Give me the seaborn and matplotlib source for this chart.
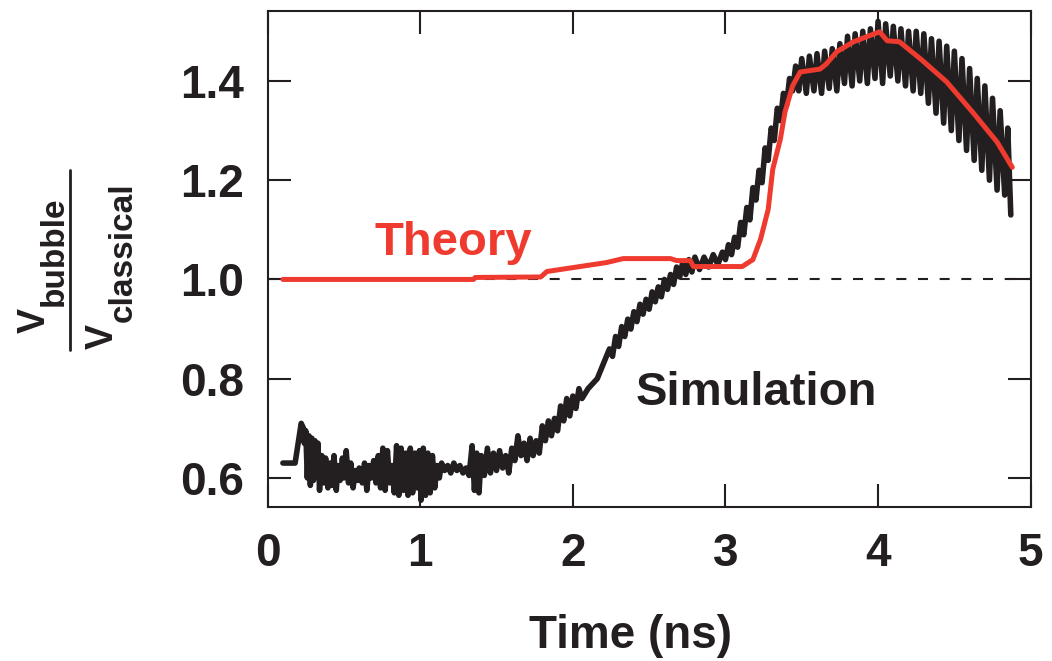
import matplotlib
matplotlib.use("Agg")
import matplotlib.pyplot as plt
import pandas as pd
import seaborn as sns

# simulation curve (time in ns, V_bubble / V_classical)
sim_t = [
    0.10, 0.18, 0.22, 0.235, 0.24, 0.25, 0.26, 0.27, 0.28, 0.29,
    0.30, 0.31, 0.32, 0.33, 0.34, 0.355, 0.37, 0.38, 0.395, 0.41,
    0.42, 0.435, 0.45, 0.46, 0.475, 0.49, 0.50, 0.515, 0.53, 0.545,
    0.56, 0.575, 0.59, 0.60, 0.62, 0.635, 0.65, 0.665, 0.68, 0.695,
    0.71, 0.725, 0.74, 0.755, 0.77, 0.785, 0.80, 0.815, 0.83, 0.845,
    0.86, 0.875, 0.89, 0.905, 0.92, 0.935, 0.95, 0.965, 0.98, 0.995,
    1.005, 1.02, 1.035, 1.05, 1.065, 1.08, 1.095, 1.11, 1.125, 1.14,
    1.16, 1.18, 1.20, 1.22, 1.24, 1.26, 1.28, 1.30, 1.32, 1.34,
    1.355, 1.37, 1.385, 1.40, 1.42, 1.44, 1.46, 1.48, 1.50, 1.52,
    1.54, 1.56, 1.58, 1.60, 1.62, 1.64, 1.66, 1.68, 1.70, 1.72,
    1.74, 1.76, 1.78, 1.80, 1.82, 1.84, 1.86, 1.88, 1.90, 1.92,
    1.94, 1.96, 1.98, 2.00, 2.02, 2.04, 2.06, 2.10, 2.16, 2.20,
    2.24, 2.26, 2.28, 2.30, 2.32, 2.34, 2.36, 2.38, 2.40, 2.42,
    2.44, 2.46, 2.48, 2.50, 2.52, 2.54, 2.56, 2.58, 2.60, 2.62,
    2.64, 2.66, 2.68, 2.70, 2.72, 2.74, 2.76, 2.78, 2.80, 2.83,
    2.86, 2.89, 2.92, 2.95, 2.98, 3.00, 3.02, 3.04, 3.06, 3.08,
    3.10, 3.12, 3.14, 3.16, 3.18, 3.20, 3.22, 3.24, 3.26, 3.28,
    3.30, 3.32, 3.34, 3.36, 3.38, 3.40, 3.42, 3.44, 3.46, 3.48,
    3.50, 3.53, 3.55, 3.58, 3.60, 3.63, 3.65, 3.68, 3.70, 3.73,
    3.75, 3.78, 3.80, 3.83, 3.85, 3.88, 3.90, 3.93, 3.95, 3.98,
    4.00, 4.03, 4.05, 4.08, 4.10, 4.13, 4.15, 4.18, 4.20, 4.23,
    4.25, 4.28, 4.30, 4.33, 4.35, 4.38, 4.40, 4.43, 4.45, 4.48,
    4.50, 4.53, 4.55, 4.58, 4.60, 4.63, 4.65, 4.68, 4.70, 4.73,
    4.75, 4.78, 4.80, 4.83, 4.85, 4.87,
]
sim_v = [
    0.630, 0.630, 0.710, 0.700, 0.670, 0.695, 0.600, 0.685, 0.585, 0.680,
    0.595, 0.675, 0.605, 0.670, 0.575, 0.645, 0.590, 0.640, 0.580, 0.630,
    0.585, 0.645, 0.575, 0.625, 0.595, 0.640, 0.600, 0.655, 0.590, 0.630,
    0.580, 0.615, 0.595, 0.620, 0.590, 0.630, 0.575, 0.625, 0.600, 0.635,
    0.590, 0.645, 0.580, 0.660, 0.575, 0.655, 0.590, 0.625, 0.570, 0.665,
    0.565, 0.660, 0.575, 0.650, 0.565, 0.660, 0.570, 0.650, 0.580, 0.655,
    0.555, 0.660, 0.565, 0.650, 0.570, 0.645, 0.580, 0.625, 0.600, 0.630,
    0.615, 0.625, 0.610, 0.630, 0.615, 0.625, 0.610, 0.620, 0.605, 0.665,
    0.575, 0.650, 0.570, 0.645, 0.605, 0.660, 0.610, 0.650, 0.615, 0.655,
    0.620, 0.645, 0.610, 0.660, 0.635, 0.685, 0.645, 0.670, 0.635, 0.680,
    0.645, 0.675, 0.650, 0.705, 0.675, 0.715, 0.685, 0.720, 0.695, 0.745,
    0.715, 0.760, 0.725, 0.765, 0.740, 0.780, 0.760, 0.780, 0.800, 0.830,
    0.860, 0.845, 0.885, 0.865, 0.905, 0.885, 0.920, 0.900, 0.935, 0.915,
    0.950, 0.930, 0.960, 0.940, 0.975, 0.955, 0.985, 0.965, 1.000, 0.980,
    1.010, 0.990, 1.025, 1.005, 1.035, 1.010, 1.040, 1.015, 1.045, 1.020,
    1.045, 1.025, 1.050, 1.030, 1.055, 1.040, 1.070, 1.050, 1.085, 1.065,
    1.115, 1.090, 1.145, 1.120, 1.185, 1.160, 1.220, 1.195, 1.265, 1.240,
    1.305, 1.280, 1.345, 1.320, 1.375, 1.350, 1.405, 1.380, 1.430, 1.380,
    1.445, 1.375, 1.450, 1.380, 1.455, 1.375, 1.460, 1.385, 1.465, 1.380,
    1.475, 1.395, 1.490, 1.390, 1.495, 1.400, 1.500, 1.395, 1.505, 1.405,
    1.520, 1.395, 1.515, 1.410, 1.510, 1.400, 1.505, 1.390, 1.500, 1.380,
    1.500, 1.375, 1.495, 1.355, 1.485, 1.335, 1.480, 1.315, 1.470, 1.300,
    1.460, 1.280, 1.445, 1.260, 1.425, 1.240, 1.405, 1.220, 1.390, 1.200,
    1.365, 1.180, 1.340, 1.170, 1.305, 1.130,
]

# theory curve
theory_t = [
    0.10, 1.35, 1.36, 1.79, 1.83, 2.22, 2.33, 2.64, 2.68, 2.77,
    2.79, 3.11, 3.18, 3.23, 3.28, 3.31, 3.36, 3.39, 3.44, 3.49,
    3.62, 3.66, 3.73, 3.84, 4.01, 4.06, 4.14, 4.28, 4.45, 4.62,
    4.78, 4.86, 4.88,
]
theory_v = [
    1.000, 1.000, 1.004, 1.005, 1.016, 1.034, 1.042, 1.042, 1.038, 1.038,
    1.026, 1.026, 1.040, 1.081, 1.141, 1.222, 1.283, 1.337, 1.390, 1.418,
    1.424, 1.434, 1.459, 1.479, 1.499, 1.481, 1.479, 1.444, 1.398, 1.337,
    1.277, 1.236, 1.226,
]

x_ticks = [0, 1, 2, 3, 4, 5]
y_ticks = [0.6, 0.8, 1.0, 1.2, 1.4]

ink = "#231f20"
red = "#ef3b2f"
W, H = 1052, 661

sns.set_style("ticks")
plt.rcParams["font.family"] = ["Liberation Sans", "DejaVu Sans"]
plt.rcParams["font.weight"] = "bold"

sim = pd.DataFrame({"t": sim_t, "v": sim_v})
theory = pd.DataFrame({"t": theory_t, "v": theory_v})

fig = plt.figure(figsize=(W / 100, H / 100), dpi=100)
ax = fig.add_axes([0.2544, 0.2334, 0.9797 - 0.2544, 0.9834 - 0.2334])

ax.axhline(1.0, color=ink, lw=1.5, ls=(0, (4.8, 5.6)), zorder=1)
sns.lineplot(data=sim, x="t", y="v", sort=False, estimator=None,
             color=ink, lw=4, ax=ax, zorder=2)
sns.lineplot(data=theory, x="t", y="v", sort=False, estimator=None,
             color=red, lw=3.6, ax=ax, zorder=3)

ax.set_xlim(0, 5)
ax.set_ylim(0.542, 1.541)
ax.set_xticks(x_ticks)
ax.set_yticks(y_ticks)
ax.set_yticklabels([f"{v:.1f}" for v in y_ticks])
ax.tick_params(direction="in", length=16.5, width=1.5, color=ink,
               top=True, right=True, labelcolor=ink)
ax.tick_params(axis="y", labelsize=33, pad=17)
ax.tick_params(axis="x", labelsize=33, pad=18)
for lab in ax.get_xticklabels() + ax.get_yticklabels():
    lab.set_fontweight("bold")
for sp in ax.spines.values():
    sp.set_linewidth(1.5)
    sp.set_color(ink)

ax.set_xlabel("Time (ns)", fontsize=33, fontweight="bold", color=ink, va="top")
ax.xaxis.set_label_coords(0.475, -0.216)
ax.set_ylabel("")


# y label: V_bubble over V_classical, drawn as rotated pieces
def rot_text(px, py, s, size):
    fig.text(px / W, 1 - py / H, s, rotation=90, rotation_mode="anchor",
             ha="left", va="baseline", fontsize=size, fontweight="bold",
             color=ink)


rot_text(45, 333, "V", 27)
rot_text(63, 306, "bubble", 24)
rot_text(113, 349, "V", 27)
rot_text(132, 322, "classical", 24)
fig.add_artist(plt.Line2D([70 / W, 70 / W], [1 - 170 / H, 1 - 350 / H],
                          color=ink, lw=2, transform=fig.transFigure))

ax.text(0.70, 1.05, "Theory", color=red, fontsize=34, fontweight="bold")
ax.text(2.41, 0.747, "Simulation", color=ink, fontsize=34, fontweight="bold")

fig.savefig("out.png", dpi=100)
